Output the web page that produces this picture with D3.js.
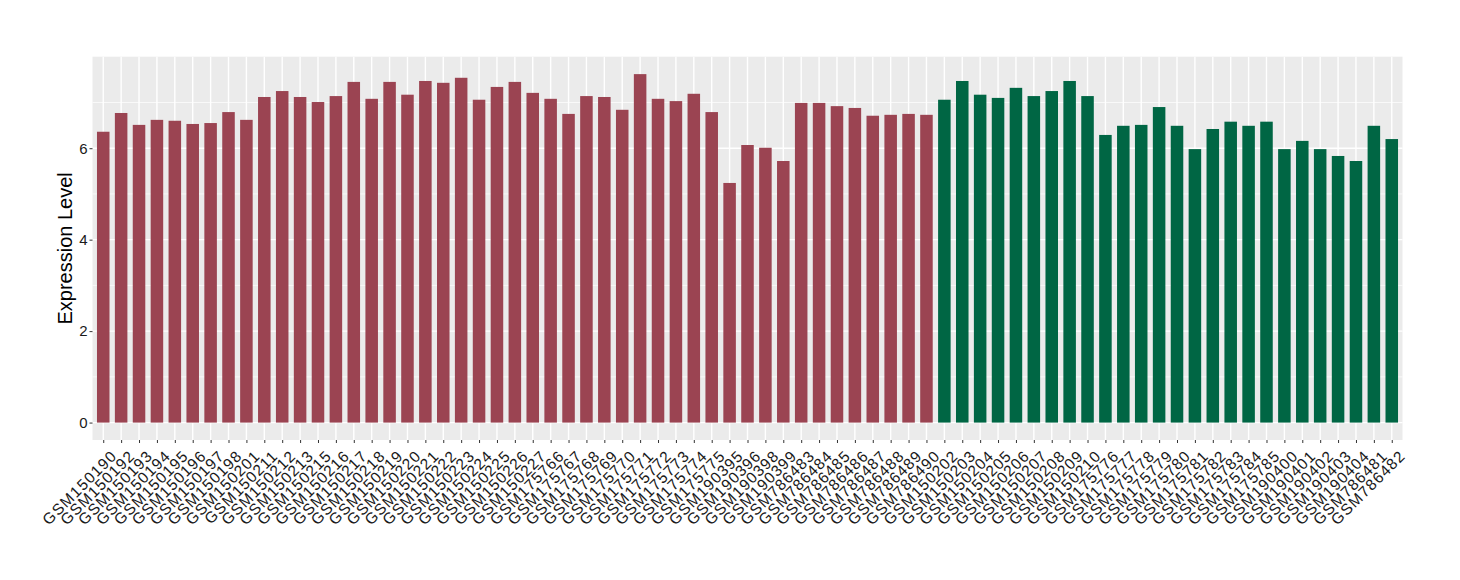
<!DOCTYPE html>
<html>
<head>
<meta charset="utf-8">
<script src="https://cdn.jsdelivr.net/npm/d3@7"></script>
<style>
  html, body { margin: 0; padding: 0; background: #fff; }
  svg { display: block; font-family: "Liberation Sans", Arial, Helvetica, sans-serif; }
</style>
</head>
<body>
<svg id="chart" width="1460" height="580"></svg>
<script>
const groupASamples = ["GSM150190","GSM150192","GSM150193","GSM150194","GSM150195","GSM150196","GSM150197","GSM150198","GSM150201","GSM150211","GSM150212","GSM150213","GSM150215","GSM150216","GSM150217","GSM150218","GSM150219","GSM150220","GSM150221","GSM150222","GSM150223","GSM150224","GSM150225","GSM150226","GSM150227","GSM175766","GSM175767","GSM175768","GSM175769","GSM175770","GSM175771","GSM175772","GSM175773","GSM175774","GSM175775","GSM190395","GSM190396","GSM190398","GSM190399","GSM786483","GSM786484","GSM786485","GSM786486","GSM786487","GSM786488","GSM786489","GSM786490"];
const groupAValues = [6.36,6.77,6.51,6.62,6.60,6.53,6.55,6.79,6.62,7.12,7.25,7.12,7.01,7.14,7.45,7.08,7.45,7.17,7.47,7.43,7.54,7.06,7.34,7.45,7.21,7.08,6.75,7.14,7.12,6.84,7.62,7.08,7.03,7.19,6.79,5.24,6.07,6.01,5.72,6.99,6.99,6.92,6.88,6.71,6.73,6.75,6.73];
const groupBSamples = ["GSM150202","GSM150203","GSM150204","GSM150205","GSM150206","GSM150207","GSM150208","GSM150209","GSM150210","GSM175776","GSM175777","GSM175778","GSM175779","GSM175780","GSM175781","GSM175782","GSM175783","GSM175784","GSM175785","GSM190400","GSM190401","GSM190402","GSM190403","GSM190404","GSM786481","GSM786482"];
const groupBValues = [7.06,7.47,7.17,7.10,7.32,7.14,7.25,7.47,7.14,6.29,6.49,6.51,6.90,6.49,5.98,6.42,6.58,6.49,6.58,5.98,6.16,5.98,5.83,5.72,6.49,6.20];
const yTicks = [0, 2, 4, 6];
const yMinor = [1, 3, 5, 7];
const groupColors = { A: "#9B4452", B: "#006644" };
const yTitle = "Expression Level";

const data = groupASamples.map((s, i) => ({ name: s, value: groupAValues[i], group: "A" }))
  .concat(groupBSamples.map((s, i) => ({ name: s, value: groupBValues[i], group: "B" })));

const svg = d3.select("#chart");
const panel = { left: 92.5, right: 1402.5, top: 56.7, bottom: 440 };

const n = data.length;
const xPos = d3.scaleLinear().domain([0.4, n + 0.6]).range([panel.left, panel.right]);
const step = xPos(2) - xPos(1);
const barW = step * 0.7;

const maxV = d3.max(data, d => d.value);
const y = d3.scaleLinear().domain([-0.05 * maxV, 1.05 * maxV]).range([panel.bottom, panel.top]);

// panel background
svg.append("rect")
  .attr("x", panel.left).attr("y", panel.top)
  .attr("width", panel.right - panel.left).attr("height", panel.bottom - panel.top)
  .attr("fill", "#EBEBEB");

const grid = svg.append("g");
grid.selectAll("line.minor").data(yMinor.filter(v => y(v) >= panel.top)).join("line")
  .attr("x1", panel.left).attr("x2", panel.right)
  .attr("y1", d => y(d)).attr("y2", d => y(d))
  .attr("stroke", "#fff").attr("stroke-width", 0.7);
grid.selectAll("line.major").data(yTicks).join("line")
  .attr("x1", panel.left).attr("x2", panel.right)
  .attr("y1", d => y(d)).attr("y2", d => y(d))
  .attr("stroke", "#fff").attr("stroke-width", 1.4);
grid.selectAll("line.vert").data(data).join("line")
  .attr("x1", (d, i) => xPos(i + 1)).attr("x2", (d, i) => xPos(i + 1))
  .attr("y1", panel.top).attr("y2", panel.bottom)
  .attr("stroke", "#fff").attr("stroke-width", 1.4);

// bars
svg.append("g").selectAll("rect").data(data).join("rect")
  .attr("x", (d, i) => xPos(i + 1) - barW / 2)
  .attr("width", barW)
  .attr("y", d => y(d.value))
  .attr("height", d => y(0) - y(d.value))
  .attr("fill", d => groupColors[d.group]);

// y axis
const yAxis = svg.append("g").attr("transform", `translate(${panel.left},0)`)
  .call(d3.axisLeft(y).tickValues(yTicks).tickSize(3).tickPadding(2).tickFormat(d3.format("d")));
yAxis.select(".domain").remove();
yAxis.selectAll(".tick line").attr("stroke", "#333").attr("stroke-width", 1);
yAxis.selectAll(".tick text").attr("fill", "#1a1a1a").style("font-size", "15px")
  .style("font-family", "Liberation Sans, Arial, sans-serif");

// x axis
const xAxis = svg.append("g").attr("transform", `translate(0,${panel.bottom})`)
  .call(d3.axisBottom(xPos).tickValues(d3.range(1, n + 1)).tickSize(3).tickFormat(""));
xAxis.select(".domain").remove();
xAxis.selectAll(".tick line").attr("stroke", "#333").attr("stroke-width", 1);

svg.append("g").selectAll("text").data(data).join("text")
  .attr("transform", (d, i) => `translate(${xPos(i + 1) + 2},${panel.bottom + 4}) rotate(-45)`)
  .attr("text-anchor", "end")
  .attr("dy", "18")
  .attr("fill", "#1a1a1a")
  .style("font-size", "15.5px")
  .style("letter-spacing", "1.2px")
  .text(d => d.name);

// y title
svg.append("text")
  .attr("transform", `translate(72,${(panel.top + panel.bottom) / 2}) rotate(-90)`)
  .attr("text-anchor", "middle")
  .attr("fill", "#000")
  .style("font-size", "20px")
  .text(yTitle);
</script>
</body>
</html>
